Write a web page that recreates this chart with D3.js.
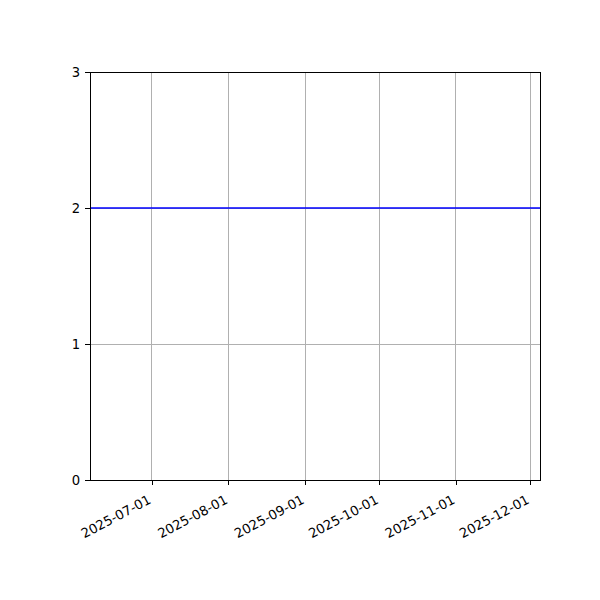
<!DOCTYPE html>
<html>
<head>
<meta charset="utf-8">
<script src="https://cdn.jsdelivr.net/npm/d3@7"></script>
<style>
  body { margin: 0; background: #fff; }
  text { font-family: "DejaVu Sans", sans-serif; }
</style>
</head>
<body>
<div id="canvas"></div>
<script>
// data
const dates = ["2025-06-06", "2025-12-05"];
const values = [2, 2];
const xTicks = ["2025-07-01", "2025-08-01", "2025-09-01", "2025-10-01", "2025-11-01", "2025-12-01"];
const yTicks = [0, 1, 2, 3];

const parse = d3.timeParse("%Y-%m-%d");
const fmt = d3.timeFormat("%Y-%m-%d");

const width = 600;
const height = 600;
const margin = { top: 72, left: 90, bottom: 120, right: 60 };
const iwidth = width - margin.left - margin.right;
const iheight = height - margin.top - margin.bottom;

const svg = d3.select("#canvas").append("svg")
  .attr("width", width)
  .attr("height", height);

const g = svg.append("g")
  .attr("transform", `translate(${margin.left},${margin.top})`);

const x = d3.scaleTime()
  .domain([parse(dates[0]), parse(dates[dates.length - 1])])
  .range([0, iwidth]);

const y = d3.scaleLinear().domain([0, 3]).range([iheight, 0]);

// grid
g.append("g").selectAll("line")
  .data(xTicks.map(parse))
  .join("line")
  .attr("x1", d => x(d)).attr("x2", d => x(d))
  .attr("y1", 0).attr("y2", iheight)
  .attr("stroke", "#b0b0b0").attr("stroke-width", 1)
  .attr("shape-rendering", "crispEdges");

g.append("g").selectAll("line")
  .data(yTicks)
  .join("line")
  .attr("x1", 0).attr("x2", iwidth)
  .attr("y1", d => y(d)).attr("y2", d => y(d))
  .attr("stroke", "#b0b0b0").attr("stroke-width", 1)
  .attr("shape-rendering", "crispEdges");

// line
const data = dates.map((d, i) => ({ date: parse(d), value: values[i] }));
g.append("path")
  .datum(data)
  .attr("fill", "none")
  .attr("stroke", "#0000ff")
  .attr("stroke-width", 1.6)
  .attr("d", d3.line().x(d => x(d.date)).y(d => y(d.value)));

// frame
g.append("rect")
  .attr("width", iwidth).attr("height", iheight)
  .attr("fill", "none").attr("stroke", "#000").attr("stroke-width", 1)
  .attr("shape-rendering", "crispEdges");

// axes
const xAxis = g.append("g")
  .attr("transform", `translate(0,${iheight})`)
  .call(d3.axisBottom(x).tickValues(xTicks.map(parse)).tickFormat(fmt).tickSize(4.9).tickPadding(0));
xAxis.select(".domain").remove();
xAxis.selectAll("line").attr("stroke-width", 1).attr("shape-rendering", "crispEdges");
xAxis.selectAll("text")
  .attr("font-size", 13.2)
  .attr("fill", "#000")
  .attr("text-anchor", "end")
  .attr("x", 0)
  .attr("y", 0)
  .attr("dy", "0.74em")
  .attr("transform", "translate(-5,14) rotate(-28)");

const yAxis = g.append("g")
  .call(d3.axisLeft(y).tickValues(yTicks).tickFormat(d3.format("d")).tickSize(4.9).tickPadding(4.9));
yAxis.select(".domain").remove();
yAxis.selectAll("line").attr("stroke-width", 1).attr("shape-rendering", "crispEdges");
yAxis.selectAll("text").attr("font-size", 13.2).attr("fill", "#000");
</script>
</body>
</html>
